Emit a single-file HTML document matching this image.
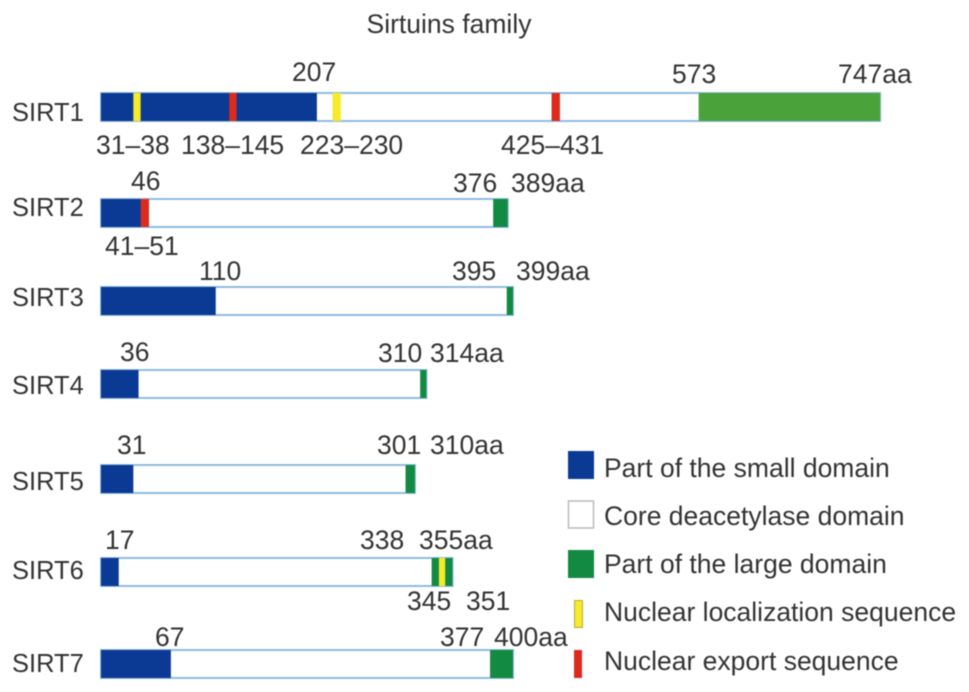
<!DOCTYPE html>
<html lang="en">
<head>
<meta charset="utf-8">
<title>Sirtuins family</title>
<style>
html,body{margin:0;padding:0;background:#fff;}
#chart{display:block;width:969px;height:692px;filter:blur(0.5px);}
text{font-family:"Liberation Sans",sans-serif;font-size:26.5px;fill:#333;}
.row{font-size:25.5px;}
</style>
</head>
<body>
<svg id="chart" xmlns="http://www.w3.org/2000/svg" width="969" height="692" viewBox="0 0 969 692">
  <text x="449" y="33" text-anchor="middle">Sirtuins family</text>

  <g id="bars"></g>

  <g>
    <text class="row" x="12" y="121">SIRT1</text>
    <text class="row" x="12" y="216">SIRT2</text>
    <text class="row" x="12" y="306">SIRT3</text>
    <text class="row" x="12" y="394">SIRT4</text>
    <text class="row" x="12" y="490">SIRT5</text>
    <text class="row" x="12" y="579">SIRT6</text>
    <text class="row" x="12" y="672">SIRT7</text>
  </g>

  <g>
    <text x="292" y="81">207</text>
    <text x="672" y="83">573</text>
    <text x="838" y="83">747aa</text>
    <text x="96" y="154">31–38</text>
    <text x="181" y="154">138–145</text>
    <text x="300" y="154">223–230</text>
    <text x="501" y="154">425–431</text>
    <text x="131" y="190">46</text>
    <text x="453" y="192">376</text>
    <text x="511" y="192">389aa</text>
    <text x="105" y="255">41–51</text>
    <text x="199" y="280">110</text>
    <text x="452" y="280">395</text>
    <text x="516" y="280">399aa</text>
    <text x="120" y="361">36</text>
    <text x="378" y="362">310</text>
    <text x="430" y="362">314aa</text>
    <text x="117" y="454">31</text>
    <text x="377" y="454">301</text>
    <text x="430" y="454">310aa</text>
    <text x="105" y="549">17</text>
    <text x="360" y="549">338</text>
    <text x="419" y="549">355aa</text>
    <text x="407" y="610">345</text>
    <text x="466" y="610">351</text>
    <text x="155" y="646">67</text>
    <text x="440" y="646">377</text>
    <text x="494" y="646">400aa</text>
  </g>

  <g>
    <rect x="568" y="451" width="26" height="28" fill="#0b3a94"/>
    <text x="604" y="477">Part of the small domain</text>
    <rect x="568.5" y="501" width="25" height="27" fill="#fff" stroke="#bbb" stroke-width="1.5"/>
    <text x="604" y="525">Core deacetylase domain</text>
    <rect x="568" y="550" width="26" height="28" fill="#138a42"/>
    <text x="604" y="573">Part of the large domain</text>
    <rect x="574.5" y="600.5" width="8" height="27" fill="#f7ea2a" stroke="#b9a93a" stroke-width="1"/>
    <text x="604" y="621">Nuclear localization sequence</text>
    <rect x="574" y="650" width="8" height="28" fill="#dc2a1c"/>
    <text x="604" y="670">Nuclear export sequence</text>
  </g>
</svg>
<script>
// Positions as drawn in the picture, in residues along the shared axis.
const proteins = ['SIRT1', 'SIRT2', 'SIRT3', 'SIRT4', 'SIRT5', 'SIRT6', 'SIRT7'];
const smallDomainEnd = [207, 46, 110, 36, 31, 17, 67];
const largeDomainStart = [573, 376, 389, 306, 292, 317, 373];
const proteinEnd = [747, 390, 395, 312, 301, 337, 395];
// Signal-sequence marks as drawn.
const motifProtein = ['SIRT1', 'SIRT1', 'SIRT1', 'SIRT1', 'SIRT2', 'SIRT6'];
const motifType = ['nls', 'nes', 'nls', 'nes', 'nes', 'nls'];
const motifStart = [31, 123, 222, 432, 38, 324];
const motifEnd = [38, 130, 230, 440, 46, 330];

const AXIS_LEFT = 101;
const PX_PER_RESIDUE = 1.043;
const ROW_TOPS = [93, 199, 287, 370, 465, 558, 650];
const ROW_HEIGHT = 28;
const COLORS = {small: '#0b3a94', large: '#138a42', sirt1Large: '#4aa23a', nls: '#f7ea2a', nes: '#dc2a1c', edge: '#8fbce0'};

function xScale(residue) { return AXIS_LEFT + residue * PX_PER_RESIDUE; }
function yScale(protein) { return ROW_TOPS[proteins.indexOf(protein)]; }

const svgNS = 'http://www.w3.org/2000/svg';
const bars = document.getElementById('bars');

function addRect(x0, x1, y, fill) {
  const r = document.createElementNS(svgNS, 'rect');
  r.setAttribute('x', x0);
  r.setAttribute('y', y);
  r.setAttribute('width', Math.max(0, x1 - x0));
  r.setAttribute('height', ROW_HEIGHT);
  r.setAttribute('fill', fill);
  bars.appendChild(r);
  return r;
}

proteins.forEach(function (name, i) {
  const y = yScale(name);
  const key = name.toLowerCase();

  const core = addRect(xScale(0), xScale(proteinEnd[i]), y, '#fff');
  core.setAttribute('stroke', COLORS.edge);
  core.setAttribute('stroke-width', '2');
  
  

  const small = addRect(xScale(0), xScale(smallDomainEnd[i]), y, COLORS.small);
  
  

  const large = addRect(xScale(largeDomainStart[i]), xScale(proteinEnd[i]), y, i === 0 ? COLORS.sirt1Large : COLORS.large);
  
  
});

motifProtein.forEach(function (name, i) {
  const m = addRect(xScale(motifStart[i]), xScale(motifEnd[i]), yScale(name), COLORS[motifType[i]]);
  
  
});
</script>
</body>
</html>
